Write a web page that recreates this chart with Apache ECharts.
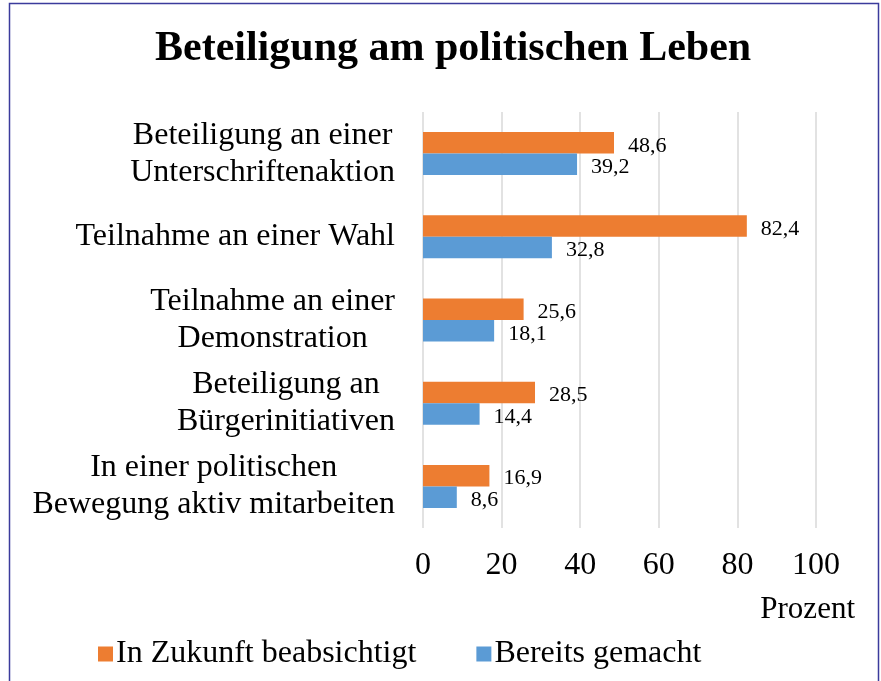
<!doctype html>
<html lang="de">
<head>
	<meta charset="UTF-8">
	<title>Beteiligung am politischen Leben</title>
	<script src="https://cdn.jsdelivr.net/npm/echarts@6/dist/echarts.min.js"></script>
	<style>
		html, body { margin: 0; padding: 0; background: #fff; }
		#chart { width: 881px; height: 681px; }
	</style>
</head>
<body>
	<div id="chart"></div>
	<script>
		var categories = [
			'Beteiligung an einer\nUnterschriftenaktion',
			'Teilnahme an einer Wahl',
			'Teilnahme an einer\nDemonstration',
			'Beteiligung an\nBürgerinitiativen',
			'In einer politischen\nBewegung aktiv mitarbeiten'
		];
		var seriesNames = ['In Zukunft beabsichtigt', 'Bereits gemacht'];
		var futureValues = [48.6, 82.4, 25.6, 28.5, 16.9];
		var doneValues = [39.2, 32.8, 18.1, 14.4, 8.6];
		var xTicks = [0, 20, 40, 60, 80, 100];

		var serif = '"Liberation Serif", "DejaVu Serif", serif';

		function comma(v) {
			return v.toFixed(1).replace('.', ',');
		}

		var chart = echarts.init(document.getElementById('chart'));

		var option = {
			animation: false,
			title: {
				text: 'Beteiligung am politischen Leben',
				left: 150,
				top: 23,
				textStyle: {
					fontFamily: serif,
					fontSize: 42,
					fontWeight: 'bold',
					color: '#000'
				}
			},
			legend: {
				data: seriesNames,
				left: 93,
				top: 633,
				icon: 'rect',
				itemWidth: 15,
				itemHeight: 15,
				itemGap: 60,
				textStyle: {
					fontFamily: serif,
					fontSize: 32,
					color: '#000',
					padding: [0, 0, 0, -2]
				}
			},
			grid: {
				left: 423,
				right: 65,
				top: 112,
				bottom: 153
			},
			xAxis: {
				type: 'value',
				min: xTicks[0],
				max: xTicks[xTicks.length - 1],
				interval: 20,
				axisLine: { show: false },
				axisTick: { show: false },
				axisLabel: {
					fontFamily: serif,
					fontSize: 32,
					color: '#000',
					margin: 22
				},
				splitLine: {
					lineStyle: { color: '#d9d9d9', width: 1.5 }
				}
			},
			yAxis: {
				type: 'category',
				data: categories,
				inverse: true,
				axisLine: { show: false },
				axisTick: { show: false },
				axisLabel: {
					margin: 28,
					align: 'right',
					formatter: function (v) {
						return v.split('\n').map(function (s) { return '{c|' + s + '}'; }).join('\n');
					},
					rich: {
						c: {
							fontFamily: serif,
							fontSize: 32,
							color: '#000',
							lineHeight: 37,
							align: 'center'
						}
					}
				}
			},
			graphic: [
				{
					type: 'rect',
					shape: { x: 9.5, y: 3.5, width: 869, height: 700 },
					style: { fill: 'none', stroke: '#3b3b9c', lineWidth: 1.5 }
				},
				{
					type: 'text',
					right: 26,
					top: 594,
					style: {
						text: 'Prozent',
						fontFamily: serif,
						fontSize: 31,
						fill: '#000'
					}
				}
			],
			series: [
				{
					name: seriesNames[0],
					type: 'bar',
					data: futureValues,
					barWidth: 21.5,
					barGap: '0%',
					itemStyle: { color: '#ed7d31' },
					label: {
						show: true,
						position: 'right',
						distance: 14,
						offset: [0, 3],
						fontFamily: serif,
						fontSize: 22,
						color: '#000',
						formatter: function (p) { return comma(p.value); }
					}
				},
				{
					name: seriesNames[1],
					type: 'bar',
					data: doneValues,
					barWidth: 21.5,
					barGap: '0%',
					itemStyle: { color: '#5b9bd5' },
					label: {
						show: true,
						position: 'right',
						distance: 14,
						offset: [0, 3],
						fontFamily: serif,
						fontSize: 22,
						color: '#000',
						formatter: function (p) { return comma(p.value); }
					}
				}
			]
		};
		chart.setOption(option);
	</script>
</body>
</html>
